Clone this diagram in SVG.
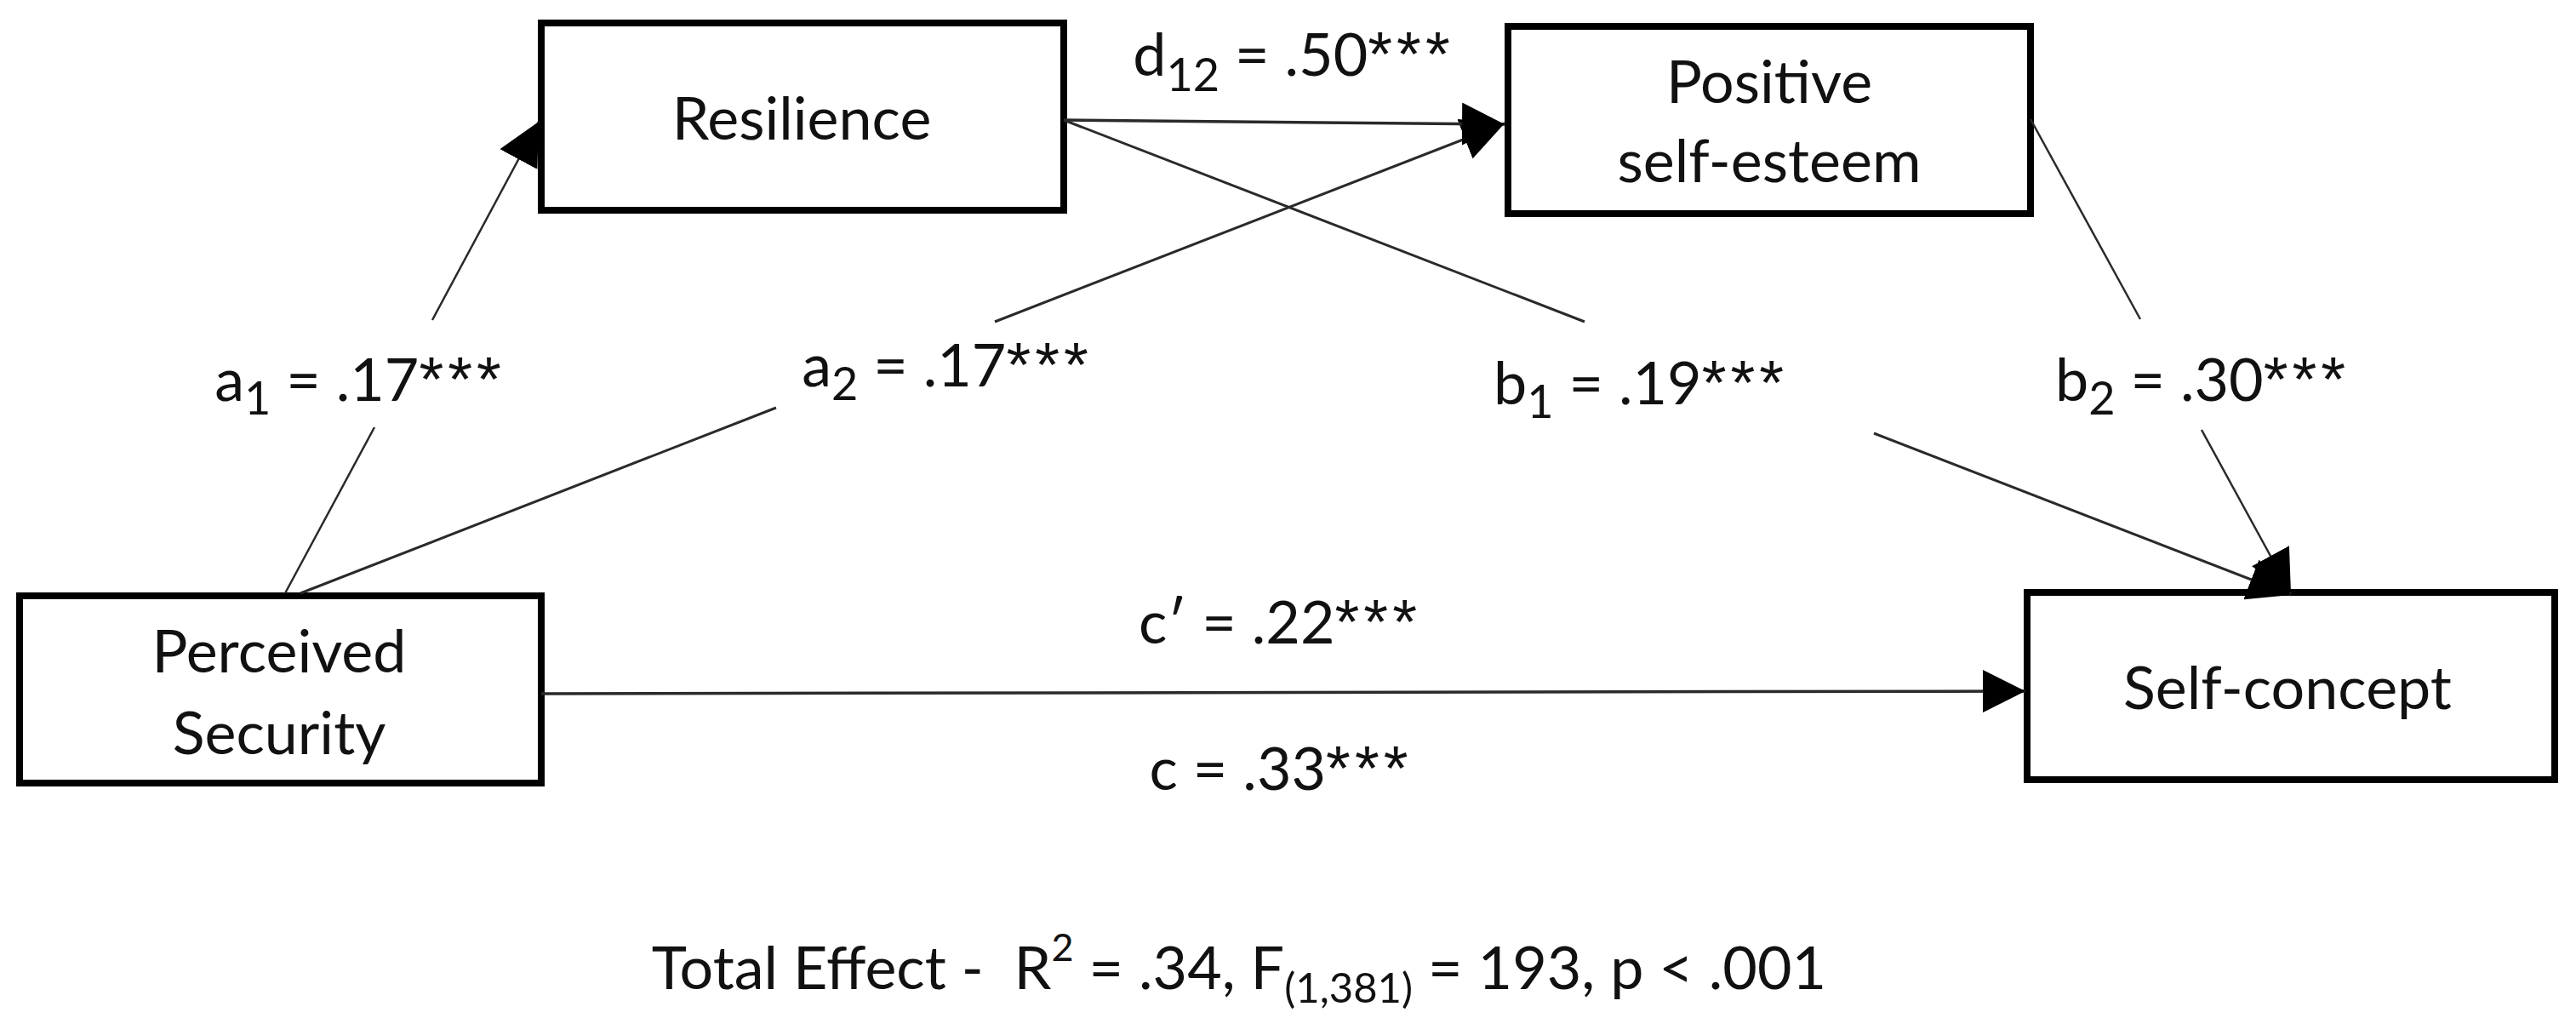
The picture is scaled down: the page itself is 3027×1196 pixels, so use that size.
<svg xmlns="http://www.w3.org/2000/svg" width="3027" height="1196" viewBox="0 0 3027 1196">
<defs>
<marker id="ah" markerUnits="userSpaceOnUse" markerWidth="50" markerHeight="50" refX="50" refY="25" orient="auto" viewBox="0 0 50 50"><path d="M0,0 L50,25 L0,50 z" fill="#000"/></marker>
</defs>
<style>
.box{fill:#fff;stroke:#000;stroke-width:8}
.t{font-family:Lato,"Open Sans","Liberation Sans",sans-serif;font-size:70px;fill:#111;text-anchor:middle}
.s{font-family:"Liberation Sans",Arial,sans-serif;font-size:74px;letter-spacing:5px}
.c{fill:none;stroke:#2a2a2a;stroke-width:3}
.h{stroke-width:3.5}
.thin{stroke-width:2.5}
</style>
<rect width="3027" height="1196" fill="#fff"/>
<g id="node-resilience">
<rect class="box" x="636" y="27" width="614" height="220"/>
<text class="t" x="942" y="164">Resilience</text>
</g>
<g id="node-positive-self-esteem">
<rect class="box" x="1772" y="31" width="614" height="220"/>
<text class="t" x="2079" y="121">Positive</text>
<text class="t" x="2079" y="214">self-esteem</text>
</g>
<g id="node-perceived-security">
<rect class="box" x="23" y="700" width="613" height="220"/>
<text class="t" x="328" y="790">Perceived</text>
<text class="t" x="328" y="886">Security</text>
</g>
<g id="node-self-concept">
<rect class="box" x="2382" y="696" width="620" height="220"/>
<text class="t" x="2688" y="833">Self-concept</text>
</g>
<g id="connectors">
<path class="c thin" d="M335,697 L440,502 M508,376 L633,143" marker-end="url(#ah)"/>
<path class="c" d="M353,697 L912,479 M1169,378 L1768,145" marker-end="url(#ah)"/>
<path class="c h" d="M1250,141 L1768,146" marker-end="url(#ah)"/>
<path class="c" d="M1250,141 L1862,378 M2202,509 L2692,699" marker-end="url(#ah)"/>
<path class="c thin" d="M2386,140 L2515,375 M2587,505 L2692,697" marker-end="url(#ah)"/>
<path class="c h" d="M636,815 L2380,812" marker-end="url(#ah)"/>
</g>
<g id="labels">
<text class="t" x="423" y="471">a<tspan font-size="54" dy="16">1</tspan><tspan dy="-16"> = .17</tspan><tspan class="s">***</tspan></text>
<text class="t" x="1113" y="454">a<tspan font-size="54" dy="16">2</tspan><tspan dy="-16"> = .17</tspan><tspan class="s">***</tspan></text>
<text class="t" x="1520" y="89">d<tspan font-size="54" dy="18">12</tspan><tspan dy="-18"> = .50</tspan><tspan class="s">***</tspan></text>
<text class="t" x="1928" y="475">b<tspan font-size="54" dy="16">1</tspan><tspan dy="-16"> = .19</tspan><tspan class="s">***</tspan></text>
<text class="t" x="2588" y="471">b<tspan font-size="54" dy="16">2</tspan><tspan dy="-16"> = .30</tspan><tspan class="s">***</tspan></text>
<text class="t" x="1504" y="756">c′ = .22<tspan class="s">***</tspan></text>
<text class="t" x="1505" y="928">c = .33<tspan class="s">***</tspan></text>
<text class="t" x="1456" y="1162" font-size="74">Total Effect -&#160; R<tspan font-size="45" dy="-33">2</tspan><tspan dy="33"> = .34, F</tspan><tspan font-size="49" dy="16">(1,381)</tspan><tspan dy="-16"> = 193, p &lt; .001</tspan></text>
</g>
</svg>
